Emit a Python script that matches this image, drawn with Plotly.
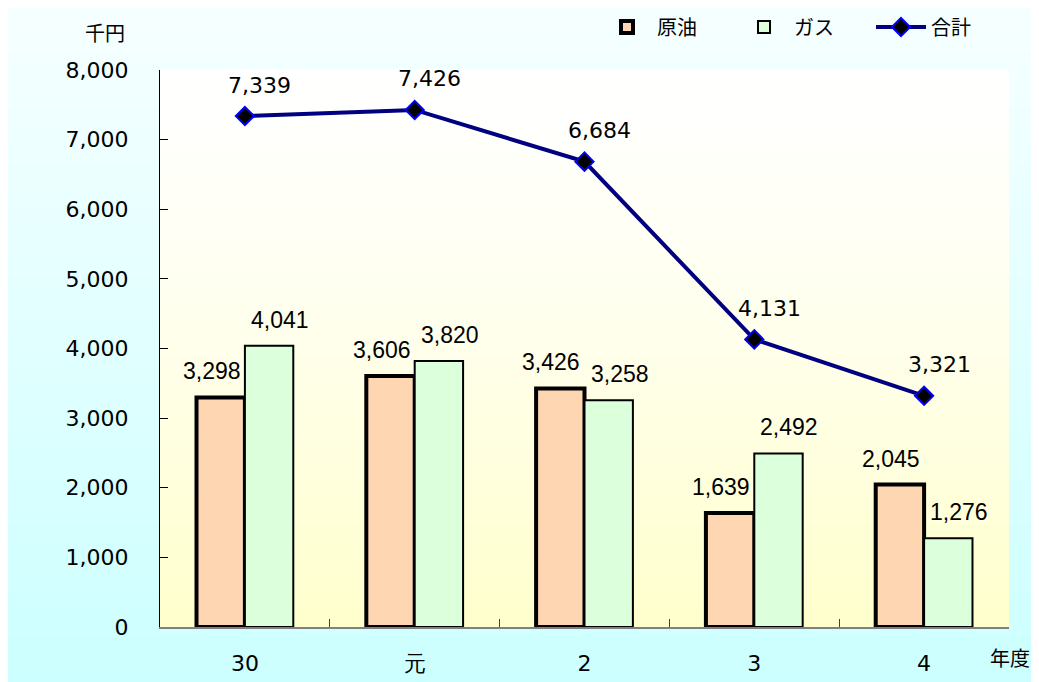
import plotly.graph_objects as go

categories = ["30", "元", "2", "3", "4"]
crude = [3298, 3606, 3426, 1639, 2045]
gas = [4041, 3820, 3258, 2492, 1276]
total = [7339, 7426, 6684, 4131, 3321]
yticks = [0, 1000, 2000, 3000, 4000, 5000, 6000, 7000, 8000]

JP = "Noto Sans CJK JP"
NUM = "DejaVu Sans"
LAB = "Liberation Sans"
W, H = 1031, 674
ML, MR, MT, MB = 152, 30, 62, 55
pw = W - ML - MR
ph = H - MT - MB
BARGAP = 0.43


def px(x):
    return (x - ML) / pw


def py(y):
    return (H - MB - y) / ph


def lerp(c1, c2, t):
    return "rgb(%d,%d,%d)" % tuple(round(a + (b - a) * t) for a, b in zip(c1, c2))


shapes = []
# paper gradient (top light -> bottom cyan)
n = 60
y_top, y_bot = py(0), py(H)
x_l, x_r = px(0), px(W)
for i in range(n):
    t0, t1 = i / n, (i + 1) / n
    ya = y_top - (y_top - y_bot) * t0
    yb = y_top - (y_top - y_bot) * t1
    shapes.append(dict(type="rect", xref="paper", yref="paper", x0=x_l, x1=x_r,
                       y0=yb, y1=ya + 0.002, line=dict(width=0),
                       fillcolor=lerp((246, 255, 255), (204, 255, 255), (t0 + t1) / 2),
                       layer="below"))
# plot area gradient (top white -> bottom light yellow)
m = 60
for i in range(m):
    t0, t1 = i / m, (i + 1) / m
    shapes.append(dict(type="rect", xref="paper", yref="paper", x0=0, x1=1,
                       y0=1 - t1, y1=1 - t0 + 0.002, line=dict(width=0),
                       fillcolor=lerp((255, 255, 255), (255, 255, 204), ((t0 + t1) / 2) ** 1.3),
                       layer="below"))

fig = go.Figure()
fig.add_trace(go.Bar(
    x=categories, y=crude, name="原油",
    marker=dict(color="#FFD6B2", line=dict(color="black", width=4)),
))
fig.add_trace(go.Bar(
    x=categories, y=gas, name="ガス",
    marker=dict(color="#DCFFDC", line=dict(color="black", width=2)),
))
fig.add_trace(go.Scatter(
    x=categories, y=total, name="合計", mode="lines+markers",
    line=dict(color="#000080", width=4),
    marker=dict(symbol="diamond", size=14, color="black", line=dict(color="#0000FF", width=2)),
    cliponaxis=False,
))

slot = pw / len(categories)
off = slot * (1 - BARGAP) / 4
annotations = []
for i, (a, b) in enumerate(zip(crude, gas)):
    annotations.append(dict(x=i, y=a, xref="x", yref="y", text=f"{a:,}", showarrow=False,
                            xshift=-off - 9, yshift=11, yanchor="bottom", xanchor="center",
                            font=dict(size=23, color="black", family=LAB)))
    annotations.append(dict(x=i, y=b, xref="x", yref="y", text=f"{b:,}", showarrow=False,
                            xshift=off + 11, yshift=11, yanchor="bottom", xanchor="center",
                            font=dict(size=23, color="black", family=LAB)))
for i, v in enumerate(total):
    annotations.append(dict(x=i, y=v, xref="x", yref="y", text=f"{v:,}", showarrow=False,
                            xshift=15, yshift=31, xanchor="center", yanchor="middle",
                            font=dict(size=22, color="black", family=NUM)))
annotations.append(dict(x=px(97), y=py(25), xref="paper", yref="paper", text="千円",
                        showarrow=False, xanchor="center", yanchor="middle",
                        font=dict(size=20, color="black", family=JP)))
annotations.append(dict(x=px(1002), y=py(649), xref="paper", yref="paper", text="年度",
                        showarrow=False, xanchor="center", yanchor="middle",
                        font=dict(size=20, color="black", family=JP)))

fig.update_layout(
    width=W, height=H,
    margin=dict(l=ML, r=MR, t=MT, b=MB, autoexpand=False),
    paper_bgcolor="#E6FFFF",
    plot_bgcolor="rgba(0,0,0,0)",
    barmode="group", bargap=BARGAP, bargroupgap=0,
    font=dict(family=JP, color="black"),
    shapes=shapes,
    annotations=annotations,
    showlegend=True,
    legend=dict(orientation="h", x=px(589), xanchor="left",
                y=py(19), yanchor="middle",
                font=dict(size=20, family=JP), bgcolor="rgba(0,0,0,0)",
                traceorder="normal", itemwidth=50,
                entrywidth=72, entrywidthmode="pixels"),
)
fig.update_xaxes(
    type="category", range=[-0.5, 4.5], showline=True, linecolor="#808080", linewidth=2,
    ticks="inside", tickson="boundaries", ticklen=8, tickcolor="#404040",
    tickfont=dict(size=22, family=NUM), ticklabelstandoff=16,
    showgrid=False, zeroline=False,
)
fig.update_yaxes(
    range=[0, 8000], tickvals=yticks, tickformat=",d",
    showline=True, linecolor="black", linewidth=1,
    ticks="inside", ticklen=8, tickcolor="black",
    tickfont=dict(size=22, family=NUM), ticklabelstandoff=26,
    showgrid=False, zeroline=False,
)

fig.write_html("out.html")
